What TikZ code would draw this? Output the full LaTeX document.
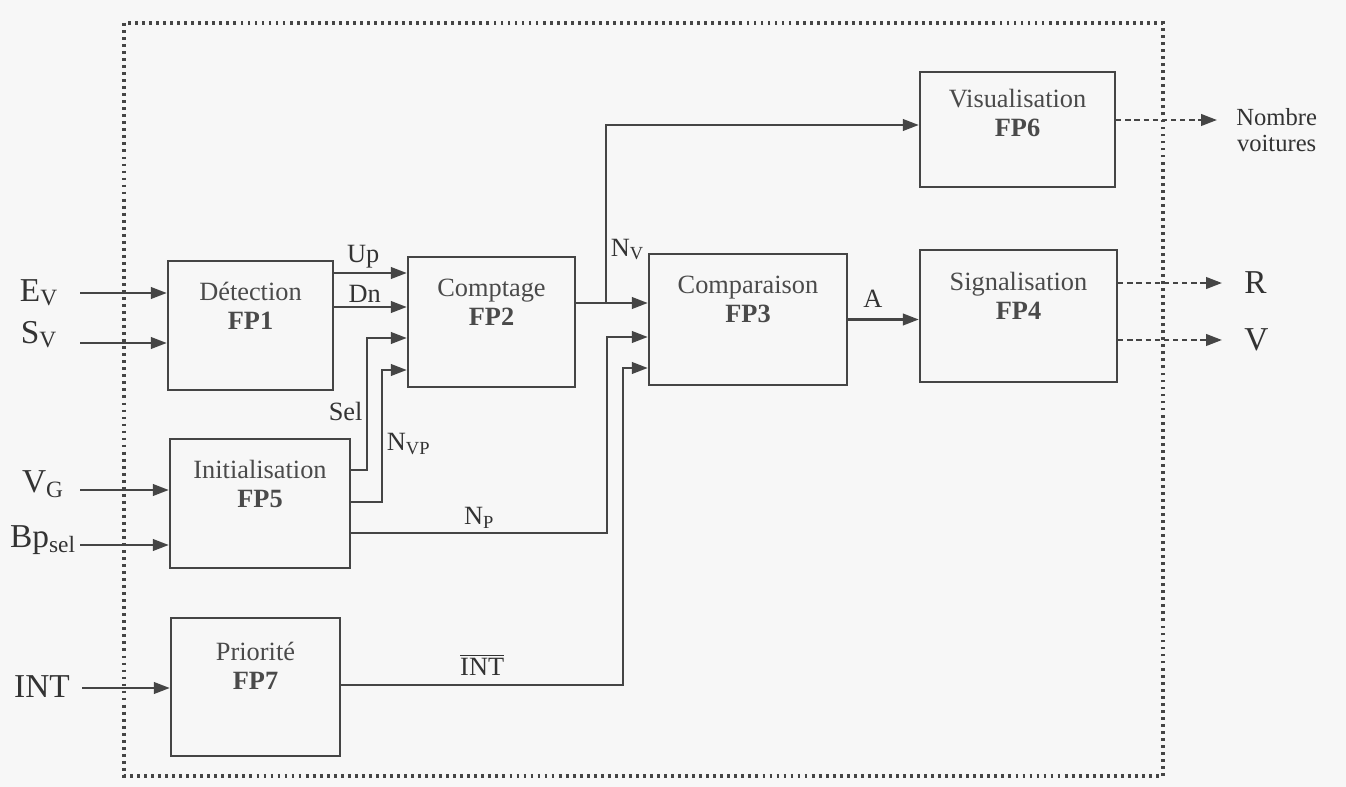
\documentclass[tikz,border=0pt]{standalone}
\usepackage{fontspec}
\setmainfont{Liberation Serif}
\usetikzlibrary{
  arrows.meta,
  calc,
  positioning
}
\definecolor{fpInk}{HTML}{333333}
\definecolor{fpLine}{HTML}{454545}
\definecolor{fpText}{HTML}{4A4A4A}
\definecolor{fpPaper}{HTML}{F7F7F7}
\tikzset{
  every node/.style={text=fpInk},
  block/.style={
    draw=fpLine,
    line width=1.4pt,
    align=center,
    inner sep=0pt,
    text=fpText,
    font=\fontsize{15}{16.5}\selectfont
  },
  link/.style={
    -{Triangle[length=9pt,width=6.5pt]},
    line width=1.35pt,
    draw=fpLine
  },
  outlink/.style={
    link,
    dash pattern=on 3pt off 2.2pt
  },
  boundary/.style={
    draw=fpLine,
    line width=2pt,
    dash pattern=on 1.6pt off 2.4pt
  },
  sig/.style={font=\fontsize{15}{17}\selectfont, inner sep=2pt},
  inlabel/.style={font=\fontsize{19}{21}\selectfont, inner sep=0pt},
  outlabel/.style={font=\fontsize{19}{21}\selectfont, inner ysep=0pt, inner xsep=0.44cm}
}

\begin{document}
\begin{tikzpicture}[x=0.02cm, y=-0.02cm]
  \fill[fpPaper] (0,0) rectangle (1346,787);
  \useasboundingbox (0,0) rectangle (1346,787);

  % system boundary
  \draw[boundary] (124,23) rectangle (1163,776);

  % functions
  \node[block, minimum width=3.3cm, minimum height=2.58cm] (fp1) at (250.5,325.5)
    {Détection\\\textbf{FP1}\\[6pt]\mbox{}};
  \node[block, minimum width=3.34cm, minimum height=2.6cm] (fp2) at (491.5,322)
    {Comptage\\\textbf{FP2}\\[6pt]\mbox{}};
  \node[block, minimum width=3.96cm, minimum height=2.62cm] (fp3) at (748,319.5)
    {Comparaison\\\textbf{FP3}\\[6pt]\mbox{}};
  \node[block, minimum width=3.94cm, minimum height=2.64cm] (fp4) at (1018.5,316)
    {Signalisation\\\textbf{FP4}\\[6pt]\mbox{}};
  \node[block, minimum width=3.6cm, minimum height=2.58cm] (fp5) at (260,503.5)
    {Initialisation\\\textbf{FP5}\\[6pt]\mbox{}};
  \node[block, minimum width=3.9cm, minimum height=2.3cm] (fp6) at (1017.5,129.5)
    {Visualisation\\\textbf{FP6}\\[2pt]\mbox{}};
  \node[block, minimum width=3.38cm, minimum height=2.76cm] (fp7) at (255.5,687)
    {Priorité\\\textbf{FP7}\\[8pt]\mbox{}};

  % inputs
  \node[inlabel, anchor=base] (ev) at (39,301) {E\textsubscript{V}};
  \node[inlabel, anchor=base] (sv) at (39,343) {S\textsubscript{V}};
  \node[inlabel, anchor=base] (vg) at (43,492) {V\textsubscript{G}};
  \node[inlabel, anchor=base] (bp) at (43,547) {Bp\textsubscript{sel}};
  \node[inlabel, anchor=base] (int) at (42,697) {INT};
  \coordinate (evin) at (80,293);
  \coordinate (svin) at (80,343);
  \coordinate (vgin) at (80,490);
  \coordinate (bpin) at (80,545);
  \coordinate (intin) at (82,688);
  \draw[link] (evin) -- (evin -| fp1.west);
  \draw[link] (svin) -- (svin -| fp1.west);
  \draw[link] (vgin) -- (vgin -| fp5.west);
  \draw[link] (bpin) -- (bpin -| fp5.west);
  \draw[link] (intin) -- (intin -| fp7.west);

  % internal flows
  \draw[link] ([yshift=1.05cm]fp1.east) -- node[sig, above, pos=0.4] (up) {Up}
    ([yshift=1.05cm]fp1.east -| fp2.west);
  \draw[link] ([yshift=0.37cm]fp1.east) -- node[sig, above, pos=0.42] (dn) {Dn}
    ([yshift=0.37cm]fp1.east -| fp2.west);
  \draw[link] ([yshift=0.67cm]fp5.east) -- ++(0.32cm,0)
    |- node[sig, left, pos=0.22] (sel) {Sel} ([yshift=-0.32cm]fp2.west);
  \draw[link] ([yshift=0.03cm]fp5.east) -- ++(0.62cm,0)
    |- node[sig, right, pos=0.22] (nvp) {N\textsubscript{VP}} ([yshift=-0.96cm]fp2.west);

  \draw[link] ([yshift=0.38cm]fp2.east) -- ([yshift=0.38cm]fp2.east -| fp3.west);
  \coordinate (nvtap) at ($([yshift=0.38cm]fp2.east)+(0.6cm,0)$);
  \draw[link] (nvtap) |- node[sig, right, pos=0.15] (nv) {N\textsubscript{V}}
    ([yshift=0.09cm]fp6.west);

  \draw[link] ([yshift=-0.59cm]fp5.east) -- node[sig, above] (np) {N\textsubscript{P}}
    ++(5.12cm,0) |- ([yshift=-0.35cm]fp3.west);
  \draw[link] ([yshift=0.04cm]fp7.east) -- node[sig, above=3pt] (intbar) {$\overline{\mbox{INT}}$}
    ++(5.64cm,0) |- ([yshift=-0.97cm]fp3.west);

  \draw[link] (fp3.east) -- node[sig, above=4pt, pos=0.35] (a) {A} (fp3.east -| fp4.west);

  % outputs
  \node[outlabel, anchor=west] (rout) at (1222,283) {R};
  \node[outlabel, anchor=west] (vout) at (1222,340) {V};
  \node[outlabel, anchor=west, inner xsep=0.38cm, align=center,
    font=\fontsize{14}{14.5}\selectfont] (nbout) at (1217,130) {Nombre\\voitures};
  \draw[outlink] ([yshift=0.66cm]fp4.east) -- ([yshift=0.66cm]fp4.east -| rout.west);
  \draw[outlink] ([yshift=-0.48cm]fp4.east) -- ([yshift=-0.48cm]fp4.east -| vout.west);
  \draw[outlink] ([yshift=0.19cm]fp6.east) -- ([yshift=0.19cm]fp6.east -| nbout.west);
\end{tikzpicture}
\end{document}
